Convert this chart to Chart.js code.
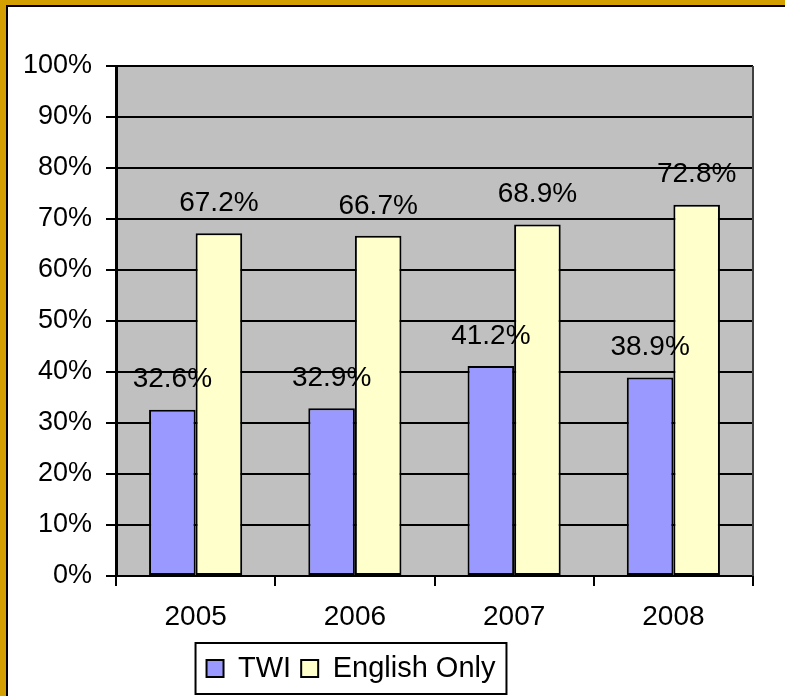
<!DOCTYPE html>
<html>
<head>
<meta charset="utf-8">
<script src="https://cdn.jsdelivr.net/npm/chart.js@4"></script>
<style>
html,body{margin:0;padding:0;background:#fff;}
canvas{display:block;}
</style>
</head>
<body>
<canvas id="c" width="785" height="696"></canvas>
<script>
const categories = ['2005', '2006', '2007', '2008'];
const twiValues = [32.6, 32.9, 41.2, 38.9];
const englishValues = [67.2, 66.7, 68.9, 72.8];
const seriesNames = ['TWI', 'English Only'];

const FONT = '"Liberation Sans", Arial, sans-serif';

const framePlugin = {
  id: 'frame',
  afterLayout(chart) {
    const lg = chart.legend;
    if (lg) { lg.left -= 25.5; lg.right -= 25.5; }
  },
  beforeDraw(chart) {
    const ctx = chart.ctx, a = chart.chartArea;
    ctx.save();
    ctx.fillStyle = '#fff';
    ctx.fillRect(0, 0, chart.width, chart.height);
    ctx.fillStyle = '#D49F00';
    ctx.fillRect(0, 0, 6, chart.height);
    ctx.fillRect(0, 0, chart.width, 5);
    ctx.fillStyle = '#000';
    ctx.fillRect(6, 5, 2, chart.height - 5);
    ctx.fillRect(6, 5, chart.width - 6, 2);
    ctx.fillStyle = '#C0C0C0';
    ctx.fillRect(a.left, a.top, a.right - a.left, a.bottom - a.top);
    ctx.restore();
  },
  afterDatasetsDraw(chart) {
    const ctx = chart.ctx, a = chart.chartArea;
    ctx.save();
    ctx.strokeStyle = '#404040';
    ctx.lineWidth = 2;
    ctx.beginPath();
    ctx.moveTo(a.right, a.top);
    ctx.lineTo(a.right, a.bottom);
    ctx.stroke();
    ctx.fillStyle = '#000';
    ctx.font = '28px ' + FONT;
    ctx.textAlign = 'center';
    ctx.textBaseline = 'middle';
    chart.data.datasets.forEach((ds, i) => {
      chart.getDatasetMeta(i).data.forEach((bar, j) => {
        ctx.fillText(ds.data[j].toFixed(1) + '%', bar.x, bar.y - 30);
      });
    });
    ctx.restore();
  },
  afterDraw(chart) {
    const lg = chart.legend;
    if (!lg || !lg.legendHitBoxes || !lg.legendHitBoxes.length) return;
    const hb = lg.legendHitBoxes;
    let l = Infinity, r = -Infinity, t = Infinity, b = -Infinity;
    hb.forEach(h => {
      l = Math.min(l, h.left); r = Math.max(r, h.left + h.width);
      t = Math.min(t, h.top); b = Math.max(b, h.top + h.height);
    });
    const ctx = chart.ctx;
    ctx.save();
    ctx.strokeStyle = '#000';
    ctx.lineWidth = 2;
    ctx.strokeRect(l - 11, t - 11, (r - l) + 22, (b - t) + 22);
    ctx.restore();
  }
};

new Chart(document.getElementById('c'), {
  type: 'bar',
  data: {
    labels: categories,
    datasets: [
      { label: seriesNames[0], data: twiValues, backgroundColor: '#9999FF', borderColor: '#000', borderWidth: 2, borderSkipped: false },
      { label: seriesNames[1], data: englishValues, backgroundColor: '#FFFFCC', borderColor: '#000', borderWidth: 2, borderSkipped: false }
    ]
  },
  options: {
    responsive: false,
    devicePixelRatio: 1,
    animation: false,
    events: [],
    datasets: { bar: { barPercentage: 1, categoryPercentage: 0.585 } },
    layout: { padding: { left: 0, right: 32, top: 66, bottom: 3 } },
    plugins: {
      tooltip: { enabled: false },
      legend: {
        position: 'bottom',
        labels: {
          color: '#000',
          font: { family: FONT, size: 29 },
          boxWidth: 17, boxHeight: 17, padding: 10
        }
      }
    },
    scales: {
      y: {
        min: 0, max: 100,
        afterFit(s) { s.width = 116; },
        ticks: { stepSize: 10, color: '#000', font: { family: FONT, size: 27 }, padding: 14, callback: v => v + '%' },
        grid: { color: '#000', lineWidth: 2, tickColor: '#000', tickLength: 10, drawTicks: true },
        border: { color: '#000', width: 3 }
      },
      x: {
        afterFit(s) { s.height = 68; },
        ticks: { color: '#000', font: { family: FONT, size: 28 }, padding: 14 },
        grid: { offset: true, drawOnChartArea: false, drawTicks: true, tickLength: 10, tickColor: '#000', lineWidth: 2 },
        border: { color: '#000', width: 2 }
      }
    }
  },
  plugins: [framePlugin]
});
</script>
</body>
</html>
